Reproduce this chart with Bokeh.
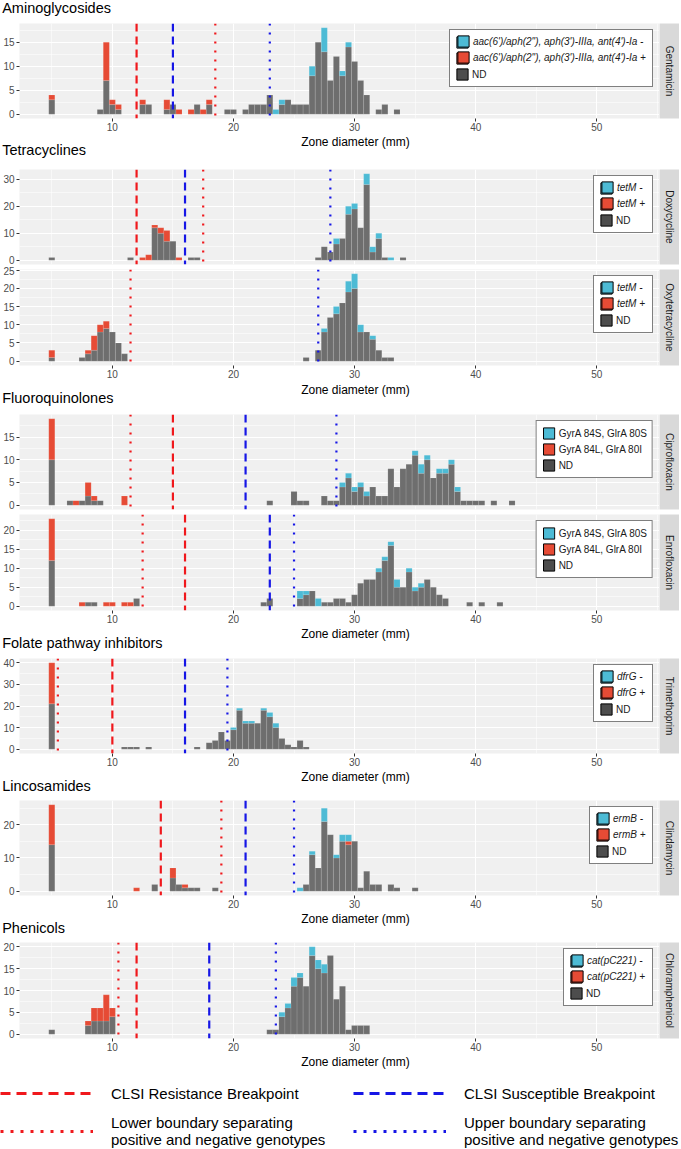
import math
from bokeh.plotting import figure
from bokeh.layouts import column, row
from bokeh.models import (Range1d, FixedTicker, Grid, Span, Label, Legend,
                          LegendItem, ColumnDataSource)
from bokeh.embed import file_html
from bokeh.resources import INLINE

# ---------------------------------------------------------------- data
# bin centres (mm) and stacked counts: ND (not determined), gene + , gene -
gent_x = [5.0, 9.0, 9.5, 10.0, 10.5, 12.5, 13.0, 14.5, 15.0, 15.5, 16.5, 17.0, 17.5, 18.0, 19.5, 20.0, 21.0, 21.5, 22.0, 22.5,
          23.0, 23.5, 24.0, 24.5, 25.0, 25.5, 26.0, 26.5, 27.0, 27.5, 28.0, 28.5, 29.0, 29.5, 30.0, 30.5, 31.0, 32.0, 32.5, 33.5]
gent_nd = [3, 1, 7, 2, 1, 2, 2, 1, 2, 0, 0, 2, 0, 2, 1, 1, 1, 2, 2, 2,
           4, 0, 2, 3, 2, 2, 2, 8, 15, 13, 7, 12, 8, 14, 11, 7, 4, 1, 2, 1]
gent_pos = [1, 0, 8, 1, 1, 1, 0, 2, 0, 1, 1, 0, 1, 1, 0, 0, 0, 0, 0, 0,
            0, 0, 0, 0, 0, 0, 0, 0, 0, 0, 0, 0, 0, 0, 0, 0, 0, 0, 0, 0]
gent_neg = [0, 0, 0, 0, 0, 0, 0, 0, 0, 0, 0, 0, 0, 0, 0, 0, 0, 0, 0, 0,
            0, 1, 1, 0, 0, 0, 0, 2, 0, 5, 0, 0, 1, 1, 0, 0, 0, 0, 0, 0]

doxy_x = [5.0, 11.5, 12.5, 13.0, 13.5, 14.0, 14.5, 15.0, 15.5, 16.5, 17.0, 27.0, 27.5, 28.0, 28.5, 29.0, 29.5, 30.0, 30.5,
          31.0, 31.5, 32.0, 32.5, 33.0, 34.0]
doxy_nd = [1, 1, 0, 0, 12, 10, 7, 7, 0, 1, 1, 1, 5, 3, 6, 8, 17, 19, 12, 28, 3, 8, 1, 0, 1]
doxy_pos = [0, 0, 1, 2, 1, 2, 4, 0, 1, 0, 0, 0, 0, 0, 0, 0, 0, 0, 0, 0, 0, 0, 0, 0, 0]
doxy_neg = [0, 0, 0, 0, 0, 0, 0, 0, 0, 0, 0, 0, 0, 0, 2, 0, 3, 2, 0, 4, 2, 2, 0, 1, 0]

oxy_x = [5.0, 7.5, 8.0, 8.5, 9.0, 9.5, 10.0, 10.5, 11.0, 26.0, 27.0, 27.5, 28.0, 28.5, 29.0, 29.5, 30.0, 30.5, 31.0,
         31.5, 32.0, 32.5, 33.0]
oxy_nd = [1, 1, 2, 3, 8, 9, 8, 5, 2, 1, 3, 8, 12, 13, 16, 19, 20, 8, 8, 6, 3, 1, 1]
oxy_pos = [2, 0, 1, 4, 2, 2, 0, 0, 0, 0, 0, 0, 0, 0, 0, 0, 0, 0, 0, 0, 0, 0, 0]
oxy_neg = [0, 0, 0, 0, 0, 0, 0, 0, 0, 0, 0, 1, 0, 2, 0, 3, 4, 2, 0, 1, 0, 0, 0]

cipro_x = [5.0, 6.5, 7.0, 7.5, 8.0, 8.5, 9.0, 11.0, 23.0, 25.0, 25.5, 26.0, 27.5, 28.0, 28.5, 29.0, 29.5, 30.0, 30.5,
           31.0, 31.5, 32.0, 32.5, 33.0, 33.5, 34.0, 34.5, 35.0, 35.5, 36.0, 36.5, 37.0, 37.5, 38.0, 38.5, 39.0, 39.5,
           40.0, 40.5, 41.5, 43.0]
cipro_nd = [10, 1, 0, 1, 2, 1, 1, 0, 1, 3, 1, 1, 2, 1, 1, 4, 6, 3, 4, 2, 4, 2, 2, 8, 4, 8, 9, 11, 7, 10, 6, 7, 7, 9,
            3, 1, 1, 1, 1, 1, 1]
cipro_pos = [9, 0, 1, 0, 3, 1, 0, 2, 0, 0, 0, 0, 0, 0, 0, 0, 0, 0, 0, 0, 0, 0, 0, 0, 0, 0, 0, 0, 0, 0, 0, 0, 0, 0,
             0, 0, 0, 0, 0, 0, 0]
cipro_neg = [0, 0, 0, 0, 0, 0, 0, 0, 0, 0, 0, 0, 0, 0, 0, 1, 1, 1, 1, 1, 0, 0, 0, 0, 0, 0, 0, 1, 2, 1, 0, 1, 1, 1,
             1, 0, 0, 0, 0, 0, 0]

enro_x = [5.0, 7.5, 8.0, 8.5, 9.5, 10.0, 11.0, 11.5, 12.0, 22.5, 23.0, 25.5, 26.0, 26.5, 27.0, 27.5, 28.0, 28.5, 29.0,
          29.5, 30.0, 30.5, 31.0, 31.5, 32.0, 32.5, 33.0, 33.5, 34.0, 34.5, 35.0, 35.5, 36.0, 36.5, 37.0, 37.5, 39.5,
          40.5, 42.0]
enro_nd = [12, 0, 1, 1, 0, 0, 0, 0, 2, 1, 2, 2, 3, 4, 0, 1, 1, 2, 2, 1, 3, 6, 7, 7, 9, 12, 16, 5, 5, 9, 4, 5, 7, 5,
           3, 2, 1, 1, 1]
enro_pos = [11, 1, 0, 0, 1, 1, 1, 1, 0, 0, 0, 0, 0, 0, 0, 0, 0, 0, 0, 0, 0, 0, 0, 0, 0, 0, 0, 0, 0, 0, 0, 0, 0, 0,
            0, 0, 0, 0, 0]
enro_neg = [0, 0, 0, 0, 0, 0, 0, 0, 0, 0, 0, 2, 1, 0, 2, 0, 0, 0, 0, 0, 0, 0, 0, 0, 1, 1, 1, 2, 0, 1, 1, 1, 0, 0,
            0, 0, 0, 0, 0]

tmp_x = [5.0, 11.0, 11.5, 12.0, 13.0, 17.0, 18.0, 18.5, 19.0, 19.5, 20.0, 20.5, 21.0, 21.5, 22.0, 22.5, 23.0, 23.5,
         24.0, 24.5, 25.0, 25.5, 26.0]
tmp_nd = [21, 1, 1, 1, 1, 1, 3, 4, 8, 4, 9, 18, 12, 12, 12, 18, 15, 10, 5, 2, 1, 4, 1]
tmp_pos = [19, 0, 0, 0, 0, 0, 0, 0, 0, 0, 0, 0, 0, 0, 0, 0, 0, 0, 0, 0, 0, 0, 0]
tmp_neg = [0, 0, 0, 0, 0, 0, 0, 0, 0, 0, 1, 1, 1, 1, 0, 1, 2, 2, 0, 0, 0, 0, 0]

clin_x = [5.0, 12.0, 13.5, 15.0, 15.5, 16.0, 16.5, 17.0, 18.5, 25.5, 26.0, 26.5, 27.0, 27.5, 28.0, 28.5, 29.0, 29.5,
          30.0, 30.5, 31.0, 31.5, 32.0, 33.0, 33.5, 35.0]
clin_nd = [14, 0, 2, 4, 2, 1, 1, 1, 1, 0, 2, 11, 7, 21, 17, 10, 15, 14, 15, 1, 6, 2, 2, 2, 1, 1]
clin_pos = [12, 1, 0, 3, 0, 1, 0, 0, 0, 0, 0, 0, 0, 0, 0, 0, 0, 1, 0, 0, 0, 0, 0, 0, 0, 0]
clin_neg = [0, 0, 0, 0, 0, 0, 0, 0, 0, 1, 0, 1, 0, 4, 0, 1, 2, 2, 0, 0, 0, 0, 0, 0, 0, 0]

chl_x = [5.0, 8.0, 8.5, 9.0, 9.5, 10.0, 23.0, 23.5, 24.0, 24.5, 25.0, 25.5, 26.0, 26.5, 27.0, 27.5, 28.0, 28.5, 29.0,
         29.5, 30.0, 30.5, 31.0]
chl_nd = [1, 2, 3, 3, 3, 4, 1, 1, 4, 6, 11, 13, 11, 18, 15, 14, 18, 8, 11, 1, 2, 2, 2]
chl_pos = [0, 1, 3, 3, 6, 2, 0, 0, 0, 0, 0, 0, 0, 0, 0, 0, 0, 0, 0, 0, 0, 0, 0]
chl_neg = [0, 0, 0, 0, 0, 0, 0, 0, 1, 1, 2, 1, 0, 2, 2, 2, 0, 0, 0, 0, 0, 0, 0]

# breakpoint / boundary lines (mm), one value per panel (None = not drawn)
resist_bp = [12, 12, None, 15, 16, 10, 14, 12]
suscept_bp = [15, 16, None, 21, 23, 16, 21, 18]
lower_bd = [18.5, 17.5, 11.5, 11.5, 12.5, 5.5, 19, 10.5]
upper_bd = [23, 28, 27, 28.5, 25, 19.5, 25, 23.5]

strip_names = ["Gentamicin", "Doxycycline", "Oxytetracycline", "Ciprofloxacin", "Enrofloxacin",
               "Trimethoprim", "Clindamycin", "Chloramphenicol"]
group_titles = ["Aminoglycosides", "Tetracyclines", "Fluoroquinolones", "Folate pathway inhibitors",
                "Lincosamides", "Phenicols"]
x_title = "Zone diameter (mm)"
gent_labels = ["aac(6')/aph(2\"), aph(3')-IIIa, ant(4')-Ia -", "aac(6')/aph(2\"), aph(3')-IIIa, ant(4')-Ia +", "ND"]
tet_labels = ["tetM -", "tetM +", "ND"]
fq_labels = ["GyrA 84S, GlrA 80S", "GyrA 84L, GlrA 80I", "ND"]
dfr_labels = ["dfrG -", "dfrG +", "ND"]
erm_labels = ["ermB -", "ermB +", "ND"]
cat_labels = ["cat(pC221) -", "cat(pC221) +", "ND"]

x_ticks = [10, 20, 30, 40, 50]
x_minor = [5, 15, 25, 35, 45, 55]
gent_yt = [0, 5, 10, 15]
doxy_yt = [0, 10, 20, 30]
oxy_yt = [0, 5, 10, 15, 20, 25]
cipro_yt = [0, 5, 10, 15]
enro_yt = [0, 5, 10, 15, 20]
tmp_yt = [0, 10, 20, 30, 40]
clin_yt = [0, 10, 20]
chl_yt = [0, 5, 10, 15, 20]

bottom_legend = ["CLSI Resistance Breakpoint", "CLSI Susceptible Breakpoint",
                 "Lower boundary separating\npositive and negative genotypes",
                 "Upper boundary separating\npositive and negative genotypes"]

# ---------------------------------------------------------------- style / layout
FONT = "Liberation Sans"
MAIN_W, FL, STRIP_W = 659, 18, 20
FW = MAIN_W - FL
X0, X1 = 2.333, 55.177
BIN_W = 0.5
PANEL_BG = "#F0F0F0"
STRIP_BG = "#D9D9D9"
C_ND, C_POS, C_NEG = "#6E6E6E", "#E64B35", "#4DBBD5"
K_ND, K_POS, K_NEG = "#4D4D4D", "#E64B35", "#4DBBD5"
RED, BLUE = "#F0181C", "#1616E6"
NAN = float("nan")

ARIAL = {' ': 278, '"': 355, "'": 191, '(': 333, ')': 333, '+': 584, ',': 278, '-': 333, '/': 278, 'A': 667,
         'C': 722, 'D': 722, 'G': 778, 'I': 278, 'L': 556, 'M': 833, 'N': 722, 'S': 667, 'a': 556, 'b': 556,
         'c': 500, 'd': 556, 'e': 556, 'f': 278, 'g': 556, 'h': 556, 'i': 222, 'l': 222, 'm': 833, 'n': 556,
         'o': 556, 'p': 556, 'r': 333, 's': 500, 't': 278, 'y': 500, 'B': 667}


def text_w(s, size):
    return sum(ARIAL.get(c, 556) for c in s) / 1000.0 * size


# panel: data, y ticks, legend labels, italic?, (fig top, fig bottom, frame top, frame bottom), x axis?
PANELS = [
    (gent_x, gent_nd, gent_pos, gent_neg, gent_yt, gent_labels, True, (20, 134, 23, 118), True),
    (doxy_x, doxy_nd, doxy_pos, doxy_neg, doxy_yt, tet_labels, True, (166, 266, 169, 264), False),
    (oxy_x, oxy_nd, oxy_pos, oxy_neg, oxy_yt, tet_labels, True, (266, 381, 269, 365), True),
    (cipro_x, cipro_nd, cipro_pos, cipro_neg, cipro_yt, fq_labels, False, (412, 512, 414, 509), False),
    (enro_x, enro_nd, enro_pos, enro_neg, enro_yt, fq_labels, False, (512, 626, 514, 610), True),
    (tmp_x, tmp_nd, tmp_pos, tmp_neg, tmp_yt, dfr_labels, True, (656, 769, 658, 753), True),
    (clin_x, clin_nd, clin_pos, clin_neg, clin_yt, erm_labels, True, (797, 911, 800, 895), True),
    (chl_x, chl_nd, chl_pos, chl_neg, chl_yt, cat_labels, True, (940, 1054, 942, 1038), True),
]

# text bands between panels: (top, bottom, [(text, x, y-from-band-top, size, align)])
T_SIZE, A_SIZE = "14.5px", "12px"
BANDS = {
    "A": (0, 20, [(group_titles[0], 1.7, 7, T_SIZE, "left")]),
    "1": (134, 166, [(x_title, 355, 7, A_SIZE, "center"), (group_titles[1], 1.7, 15, T_SIZE, "left")]),
    "2": (381, 412, [(x_title, 355, 8, A_SIZE, "center"), (group_titles[2], 1.7, 16, T_SIZE, "left")]),
    "3": (626, 656, [(x_title, 355, 7, A_SIZE, "center"), (group_titles[3], 1.7, 16, T_SIZE, "left")]),
    "4": (769, 797, [(x_title, 355, 7, A_SIZE, "center"), (group_titles[4], 1.7, 16, T_SIZE, "left")]),
    "5": (911, 940, [(x_title, 355, 7, A_SIZE, "center"), (group_titles[5], 1.7, 16, T_SIZE, "left")]),
    "6": (1054, 1148, [(x_title, 355, 7, A_SIZE, "center")]),
}
ORDER = ["A", 0, "1", 1, 2, "2", 3, 4, "3", 5, "4", 6, "5", 7, "6"]


def no_grid(f):
    f.center = [r for r in f.center if not isinstance(r, Grid)]


def style_axis(ax, ticks):
    ax.ticker = FixedTicker(ticks=ticks, minor_ticks=[])
    ax.axis_line_color = None
    ax.major_tick_line_color = "#333333"
    ax.major_tick_in = 0
    ax.major_tick_out = 3
    ax.minor_tick_line_color = None
    ax.major_label_text_font_size = "10px"
    ax.major_label_text_color = "#4D4D4D"
    ax.major_label_text_font = FONT


def add_panel_legend(p, labels, italic):
    keys = [p.quad(left=[NAN], right=[NAN], bottom=[NAN], top=[NAN], fill_color=c, line_color="black",
                   line_width=1.0) for c in (K_NEG, K_POS, K_ND)]
    common = dict(location="top_right", margin=6, padding=5, spacing=2, glyph_width=14, glyph_height=14,
                  label_height=14, label_standoff=3, label_text_font_size="10px", label_text_font=FONT,
                  label_text_color="#1A1A1A")
    if italic:
        lw = math.ceil(max(text_w(l, 10) for l in labels)) + 2
        legA = Legend(items=[LegendItem(label=l, renderers=[k]) for l, k in zip([" ", " ", labels[2]], keys)],
                      label_width=lw, border_line_color="black", border_line_width=1.2,
                      background_fill_color="white", background_fill_alpha=1.0, **common)
        legB = Legend(items=[LegendItem(label=l, renderers=[k]) for l, k in zip(labels[:2], keys[:2])],
                      label_width=lw, label_text_font_style="italic", border_line_alpha=0,
                      background_fill_alpha=0, **common)
        p.add_layout(legA)
        p.add_layout(legB)
    else:
        leg = Legend(items=[LegendItem(label=l, renderers=[k]) for l, k in zip(labels, keys)],
                     border_line_color="black", border_line_width=1.2, background_fill_color="white",
                     background_fill_alpha=1.0, **common)
        p.add_layout(leg)


def make_band(key, width):
    top, bot, texts = BANDS[key]
    h = bot - top
    f = figure(width=width, height=h, x_range=Range1d(0, width), y_range=Range1d(h, 0), min_border=0,
               x_axis_location=None, y_axis_location=None, toolbar_location=None, output_backend="svg",
               title=None, background_fill_color="white", border_fill_color="white", outline_line_color=None)
    no_grid(f)
    for txt, x, y, size, align in texts:
        f.add_layout(Label(x=x, y=y, text=txt, text_align=align, text_baseline="middle",
                           text_font_size=size, text_color="black", text_font=FONT))
    return f, h


def make_panel(i):
    xs, nd, pos, neg, yt, labels, italic, box, has_x = PANELS[i]
    top, bot, ft, fb = box
    h = bot - top
    tot = [a + b + c for a, b, c in zip(nd, pos, neg)]
    m = max(tot)
    y0, y1 = -0.05 * m, 1.05 * m
    p = figure(width=MAIN_W, height=h, x_range=Range1d(X0, X1), y_range=Range1d(y0, y1),
               min_border_left=FL, min_border_right=0, min_border_top=ft - top, min_border_bottom=bot - fb,
               x_axis_location="below" if has_x else None, y_axis_location="left",
               toolbar_location=None, output_backend="svg", title=None,
               background_fill_color=PANEL_BG, border_fill_color="white", outline_line_color=None)
    no_grid(p)
    step = yt[1] - yt[0]
    ymin = [t + step / 2 for t in yt if t + step / 2 < y1]
    p.add_layout(Grid(dimension=0, ticker=FixedTicker(ticks=x_ticks, minor_ticks=x_minor),
                      grid_line_color="white", grid_line_width=1.1,
                      minor_grid_line_color="white", minor_grid_line_width=0.55))
    p.add_layout(Grid(dimension=1, ticker=FixedTicker(ticks=yt, minor_ticks=ymin),
                      grid_line_color="white", grid_line_width=1.1,
                      minor_grid_line_color="white", minor_grid_line_width=0.55))
    for ax in p.yaxis:
        style_axis(ax, yt)
        ax.major_label_standoff = 2
    for ax in p.xaxis:
        style_axis(ax, x_ticks)
        ax.major_label_standoff = 1

    base = [0] * len(xs)
    for vals, col in ((nd, C_ND), (pos, C_POS), (neg, C_NEG)):
        sel = [k for k in range(len(xs)) if vals[k] > 0]
        src = ColumnDataSource(dict(x=[xs[k] for k in sel], bottom=[base[k] for k in sel],
                                    top=[base[k] + vals[k] for k in sel]))
        p.vbar(x="x", bottom="bottom", top="top", width=BIN_W, source=src, fill_color=col,
               line_color="white", line_alpha=0.22, line_width=0.5)
        base = [base[k] + vals[k] for k in range(len(xs))]

    for loc, colr, dash in ((resist_bp[i], RED, "8 5"), (suscept_bp[i], BLUE, "8 5"),
                            (lower_bd[i], RED, "2 7"), (upper_bd[i], BLUE, "2 7")):
        if loc is not None:
            p.add_layout(Span(location=loc, dimension="height", line_color=colr, line_width=2.2, line_dash=dash))

    add_panel_legend(p, labels, italic)

    s = figure(width=STRIP_W, height=h, x_range=Range1d(0, 1), y_range=Range1d(0, 1),
               min_border_left=0, min_border_right=0, min_border_top=ft - top, min_border_bottom=bot - fb,
               x_axis_location=None, y_axis_location=None, toolbar_location=None, output_backend="svg",
               title=None, background_fill_color=STRIP_BG, border_fill_color="white", outline_line_color=None)
    no_grid(s)
    s.add_layout(Label(x=0.5, y=0.5, text=strip_names[i], angle=-math.pi / 2, text_align="center",
                       text_baseline="middle", text_font_size="10px", text_color="#1A1A1A", text_font=FONT))
    return row(p, s)


children = []
for key in ORDER:
    if isinstance(key, int):
        children.append(make_panel(key))
    elif key != "6":
        children.append(make_band(key, MAIN_W + STRIP_W)[0])

# last band: x title + legend of the reference lines
lf, h9 = make_band("6", 680)
rr = lf.line(x=[NAN], y=[NAN], line_color=RED, line_width=3, line_dash="10 6")
rs = lf.line(x=[NAN], y=[NAN], line_color=BLUE, line_width=3, line_dash="10 6")
rl = lf.line(x=[NAN], y=[NAN], line_color=RED, line_width=3, line_dash="3 7")
ru = lf.line(x=[NAN], y=[NAN], line_color=BLUE, line_width=3, line_dash="3 7")
for lab, rend, xref, yc, rh in ((bottom_legend[0], rr, 0, 39, 20), (bottom_legend[1], rs, 353, 39, 20),
                                (bottom_legend[2], rl, 0, 77, 36), (bottom_legend[3], ru, 353, 77, 36)):
    lg = Legend(items=[LegendItem(label=lab, renderers=[rend])], location=(xref, h9 - (yc + rh / 2)),
                padding=0, margin=0, glyph_width=93, glyph_height=rh, label_height=rh, label_standoff=18,
                label_text_font_size="15px", label_text_font=FONT, label_text_color="black",
                label_text_line_height=1.2, border_line_alpha=0, background_fill_alpha=0)
    lf.add_layout(lg)
children.append(lf)

layout = column(*children)
open("out.html", "w").write(file_html(layout, INLINE))
